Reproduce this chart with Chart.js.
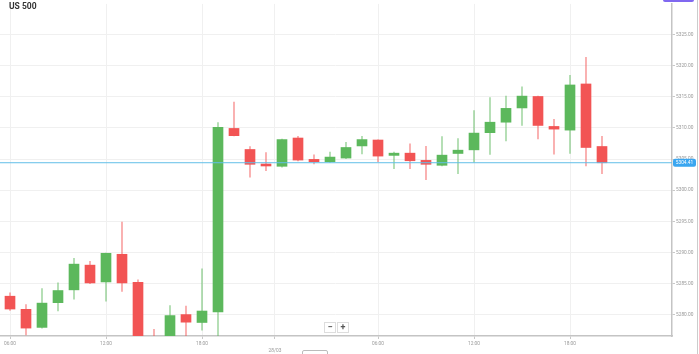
<!DOCTYPE html>
<html>
<head>
<meta charset="utf-8">
<script src="https://cdn.jsdelivr.net/npm/chart.js@4.4.1/dist/chart.umd.min.js"></script>
<style>
    html, body { margin: 0; padding: 0; background: #fff; }
    #wrap { position: relative; width: 699px; height: 354px; overflow: hidden; font-family: Roboto, 'DejaVu Sans', sans-serif; }
    #chart { position: absolute; left: 0; top: 0; }
    .title { position: absolute; left: 9px; top: 1px; font-size: 8.5px; font-weight: bold; color: #333; }
    .zoom { position: absolute; top: 322px; left: 324px; display: flex; }
    .zoom span { display: block; width: 10px; height: 9px; line-height: 9px; text-align: center; font-size: 9px; font-weight: bold; color: #555; border: 1px solid #ddd; background: #fff; margin-right: 1px; }
    .tag { position: absolute; left: 663px; top: -10px; width: 31px; height: 12px; background: #8068f0; border-radius: 2px; }
    .strip { position: absolute; left: 697px; top: 0; width: 1px; height: 354px; background: #ccc; }
    .btm { position: absolute; left: 302px; top: 350px; width: 24px; height: 10px; border: 1px solid #bbb; border-radius: 2px; }
</style>
</head>
<body>
<div id="wrap">
    <canvas id="chart" width="699" height="354"></canvas>
    <div class="title">US 500</div>
    <div class="zoom"><span>&minus;</span><span>+</span></div>
    <div class="tag"></div>
    <div class="strip"></div>
    <div class="btm"></div>
</div>
<script>
// Hourly candles, 27/03 06:00 onward
const opens  = [5282.98, 5280.87, 5277.97, 5281.94, 5284.00, 5287.97, 5285.27, 5289.71, 5285.21, 5274.10,
                5274.30, 5280.03, 5278.76, 5280.44, 5309.92, 5306.54, 5304.21, 5303.84, 5308.38, 5304.95,
                5304.57, 5305.16, 5307.11, 5308.06, 5305.59, 5305.95, 5304.79, 5304.00, 5305.90, 5306.48,
                5309.24, 5310.92, 5313.21, 5315.05, 5310.24, 5309.65, 5317.06, 5307.02];
const highs  = [5283.52, 5281.62, 5284.21, 5285.11, 5289.08, 5288.60, 5289.90, 5294.89, 5285.59, 5277.65,
                5281.46, 5281.40, 5287.38, 5310.87, 5314.16, 5307.02, 5306.06, 5308.20, 5308.65, 5305.68,
                5306.11, 5307.70, 5308.65, 5308.10, 5306.11, 5307.43, 5307.06, 5308.60, 5308.29, 5312.78,
                5314.89, 5315.11, 5316.59, 5315.10, 5311.40, 5318.44, 5321.35, 5308.65];
const lows   = [5280.71, 5276.75, 5277.86, 5280.60, 5282.51, 5285.00, 5282.19, 5283.73, 5271.20, 5270.80,
                5273.40, 5276.20, 5277.54, 5276.10, 5308.70, 5302.10, 5303.14, 5303.70, 5304.70, 5304.21,
                5304.45, 5305.05, 5305.84, 5304.57, 5303.46, 5303.46, 5301.71, 5303.90, 5302.67, 5304.52,
                5305.75, 5307.90, 5310.40, 5308.22, 5305.79, 5305.90, 5303.89, 5302.67];
const closes = [5280.92, 5277.86, 5281.87, 5283.89, 5288.13, 5285.11, 5289.87, 5285.11, 5272.40, 5272.60,
                5279.87, 5278.81, 5280.60, 5310.08, 5308.76, 5304.16, 5303.89, 5308.13, 5304.84, 5304.57,
                5305.32, 5306.86, 5308.13, 5305.48, 5305.95, 5304.73, 5304.16, 5305.63, 5306.43, 5309.17,
                5310.92, 5313.14, 5315.11, 5310.40, 5309.81, 5316.90, 5306.86, 5304.41];

// time axis labels (candle index positions)
const timeTicks  = [0, 6, 12, 16.56, 23, 29, 35];
const timeLabels = ['06:00', '12:00', '18:00', '28/03', '06:00', '12:00', '18:00'];
const priceTicks = [5280, 5285, 5290, 5295, 5300, 5305, 5310, 5315, 5320, 5325];

const xMin = -0.625, xMax = 41.375;
const yMin = 5276.59, yMax = 5329.92;

const GREEN = '#5cb85c';
const RED = '#f25454';
const GREEN_WICK = 'rgba(92, 184, 92, 0.55)';
const RED_WICK = 'rgba(242, 84, 84, 0.55)';

const lastPrice = closes[closes.length - 1];
const isUp = closes.map((c, i) => c >= opens[i]);

const bodies = opens.map((o, i) => ({ x: i, y: [o, closes[i]] }));
const wicks = lows.map((l, i) => ({ x: i, y: [l, highs[i]] }));

const priceTag = {
    id: 'priceTag',
    afterDraw(chart) {
        const { ctx, chartArea, scales } = chart;
        const y = scales.y.getPixelForValue(lastPrice);
        ctx.save();
        ctx.fillStyle = '#3aa6f0';
        ctx.beginPath();
        ctx.roundRect(chartArea.right + 1, y - 4, 23, 8, 2);
        ctx.fill();
        ctx.fillStyle = '#fff';
        ctx.font = '4.8px Roboto, sans-serif';
        ctx.textBaseline = 'middle';
        ctx.textAlign = 'center';
        ctx.fillText(lastPrice.toFixed(2), chartArea.right + 12.5, y + 0.5);
        ctx.restore();
    }
};

new Chart(document.getElementById('chart'), {
    type: 'bar',
    data: {
        datasets: [
            {
                type: 'line',
                data: [{ x: xMin, y: lastPrice }, { x: xMax, y: lastPrice }],
                borderColor: '#62bfe8',
                borderWidth: 1,
                pointRadius: 0,
                order: 0
            },
            {
                data: bodies,
                backgroundColor: isUp.map(u => u ? GREEN : RED),
                barThickness: 10,
                minBarLength: 1.5,
                grouped: false,
                order: 1
            },
            {
                data: wicks,
                backgroundColor: isUp.map(u => u ? GREEN_WICK : RED_WICK),
                barThickness: 1,
                grouped: false,
                order: 2
            }
        ]
    },
    options: {
        responsive: false,
        animation: false,
        layout: { padding: 0 },
        plugins: { legend: { display: false }, tooltip: { enabled: false } },
        scales: {
            x: {
                type: 'linear',
                min: xMin,
                max: xMax,
                offset: false,
                afterBuildTicks: s => { s.ticks = timeTicks.map(v => ({ value: v })); },
                afterFit: s => { s.height = 18; },
                grid: { color: '#f0f0f0', tickColor: '#c8c8c8', tickLength: 3, offset: false },
                border: { color: '#c4c4c4', width: 1.5 },
                ticks: {
                    autoSkip: false,
                    maxRotation: 0,
                    padding: 2,
                    color: '#999',
                    font: { size: 4.8, family: 'Roboto', lineHeight: 1.3 },
                    callback: (v, i) => timeLabels[i] === '28/03' ? ['', timeLabels[i]] : timeLabels[i]
                }
            },
            y: {
                position: 'right',
                min: yMin,
                max: yMax,
                afterBuildTicks: s => { s.ticks = priceTicks.map(v => ({ value: v })); },
                afterFit: s => { s.width = 27; },
                grid: { color: '#f0f0f0', tickColor: '#c8c8c8', tickLength: 3 },
                border: { color: '#c4c4c4', width: 1.5 },
                ticks: {
                    padding: 1,
                    color: '#999',
                    font: { size: 4.8, family: 'Roboto' },
                    callback: v => v.toFixed(2)
                }
            }
        }
    },
    plugins: [priceTag]
});
</script>
</body>
</html>
